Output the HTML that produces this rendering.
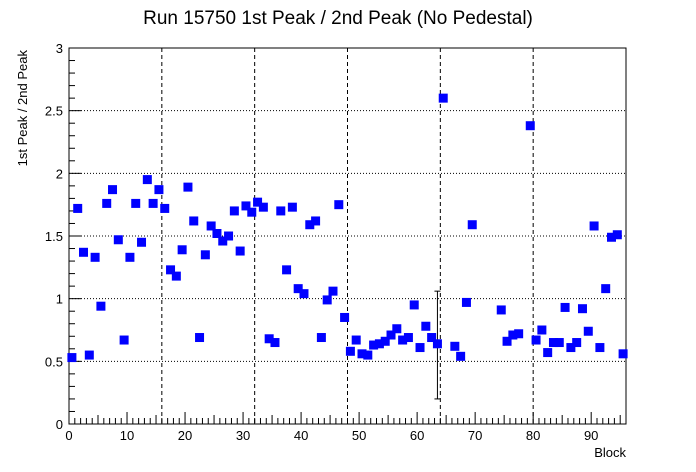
<!DOCTYPE html>
<html><head><meta charset="utf-8"><style>
body{margin:0;background:#fff;}
svg{display:block;font-family:"Liberation Sans",sans-serif;}
</style></head><body>
<svg id="chart" width="696" height="472">
<text x="338" y="24" font-size="19" text-anchor="middle">Run 15750 1st Peak / 2nd Peak (No Pedestal)</text>
<text transform="translate(27,50) rotate(-90)" font-size="13" text-anchor="end">1st Peak / 2nd Peak</text>
<text x="626" y="457" font-size="13" text-anchor="end">Block</text>
<g id="grid"></g><g id="axes"></g><g id="marks"></g>
</svg>
<script>
const blocks=[0.5,1.5,2.5,3.5,4.5,5.5,6.5,7.5,8.5,9.5,10.5,11.5,12.5,13.5,14.5,15.5,16.5,17.5,18.5,19.5,20.5,21.5,22.5,23.5,24.5,25.5,26.5,27.5,28.5,29.5,30.5,31.5,32.5,33.5,34.5,35.5,36.5,37.5,38.5,39.5,40.5,41.5,42.5,43.5,44.5,45.5,46.5,47.5,48.5,49.5,50.5,51.5,52.5,53.5,54.5,55.5,56.5,57.5,58.5,59.5,60.5,61.5,62.5,63.5,64.5,66.5,67.5,68.5,69.5,74.5,75.5,76.5,77.5,79.5,80.5,81.5,82.5,83.5,84.5,85.5,86.5,87.5,88.5,89.5,90.5,91.5,92.5,93.5,94.5,95.5];
const ratios=[0.53,1.72,1.37,0.55,1.33,0.94,1.76,1.87,1.47,0.67,1.33,1.76,1.45,1.95,1.76,1.87,1.72,1.23,1.18,1.39,1.89,1.62,0.69,1.35,1.58,1.52,1.46,1.50,1.70,1.38,1.74,1.69,1.77,1.73,0.68,0.65,1.70,1.23,1.73,1.08,1.04,1.59,1.62,0.69,0.99,1.06,1.75,0.85,0.58,0.67,0.56,0.55,0.63,0.64,0.66,0.71,0.76,0.67,0.69,0.95,0.61,0.78,0.69,0.64,2.60,0.62,0.54,0.97,1.59,0.91,0.66,0.71,0.72,2.38,0.67,0.75,0.57,0.65,0.65,0.93,0.61,0.65,0.92,0.74,1.58,0.61,1.08,1.49,1.51,0.56];
const errBlocks=[63.5];
const errLow=[0.20];
const errHigh=[1.06];
const xTicks=[0,10,20,30,40,50,60,70,80,90];
const yTicks=[0,0.5,1,1.5,2,2.5,3];
const yTickLabels=["0","0.5","1","1.5","2","2.5","3"];
const X0=69,X1=626,Y0=424,Y1=48,XMAX=96,YMAX=3;
const sx=v=>X0+v*(X1-X0)/XMAX, sy=v=>Y0-v*(Y0-Y1)/YMAX;
const NS="http://www.w3.org/2000/svg";
function mk(p,t,a){const e=document.createElementNS(NS,t);for(const k in a)e.setAttribute(k,a[k]);p.appendChild(e);return e;}
const grid=document.getElementById('grid'),axes=document.getElementById('axes'),marks=document.getElementById('marks');
for(let i=1;i<6;i++){const l=mk(grid,'line',{x1:sx(i*16),x2:sx(i*16),y1:Y1,y2:Y0,stroke:'#000','stroke-dasharray':'4,3','stroke-width':1});

}
for(let i=1;i<6;i++){const l=mk(grid,'line',{x1:X0,x2:X1,y1:sy(i*0.5),y2:sy(i*0.5),stroke:'#000','stroke-dasharray':'1,2','stroke-width':1});

}
const fr=mk(axes,'rect',{x:X0,y:Y1,width:X1-X0,height:Y0-Y1,fill:'none',stroke:'#000','stroke-width':1});


for(let v=0;v<=XMAX;v++){const h=v%10==0?12:(v%5==0?9:6);mk(axes,'line',{x1:sx(v),x2:sx(v),y1:Y0,y2:Y0-h,stroke:'#000'});}
xTicks.forEach(v=>{const t=mk(axes,'text',{x:sx(v),y:Y0+16,'font-size':13,'text-anchor':'middle'});t.textContent=v;

});
for(let i=0;i<=30;i++){const v=i*0.1;const h=i%5==0?12:6;mk(axes,'line',{x1:X0,x2:X0+h,y1:sy(v),y2:sy(v),stroke:'#000'});}
yTicks.forEach((v,i)=>{const t=mk(axes,'text',{x:X0-6,y:sy(v)+5,'font-size':13,'text-anchor':'end'});t.textContent=yTickLabels[i];

});
errBlocks.forEach((b,i)=>{const x=sx(b);const g=mk(marks,'g',{stroke:'#000','stroke-width':1});


mk(g,'line',{x1:x,x2:x,y1:sy(errLow[i]),y2:sy(errHigh[i])});
mk(g,'line',{x1:x-3,x2:x+3,y1:sy(errLow[i]),y2:sy(errLow[i])});
mk(g,'line',{x1:x-3,x2:x+3,y1:sy(errHigh[i]),y2:sy(errHigh[i])});});
blocks.forEach((b,i)=>{const r=mk(marks,'rect',{x:sx(b)-4.5,y:sy(ratios[i])-4.5,width:9,height:9,fill:'#0000ff'});

});
</script>
</body></html>
